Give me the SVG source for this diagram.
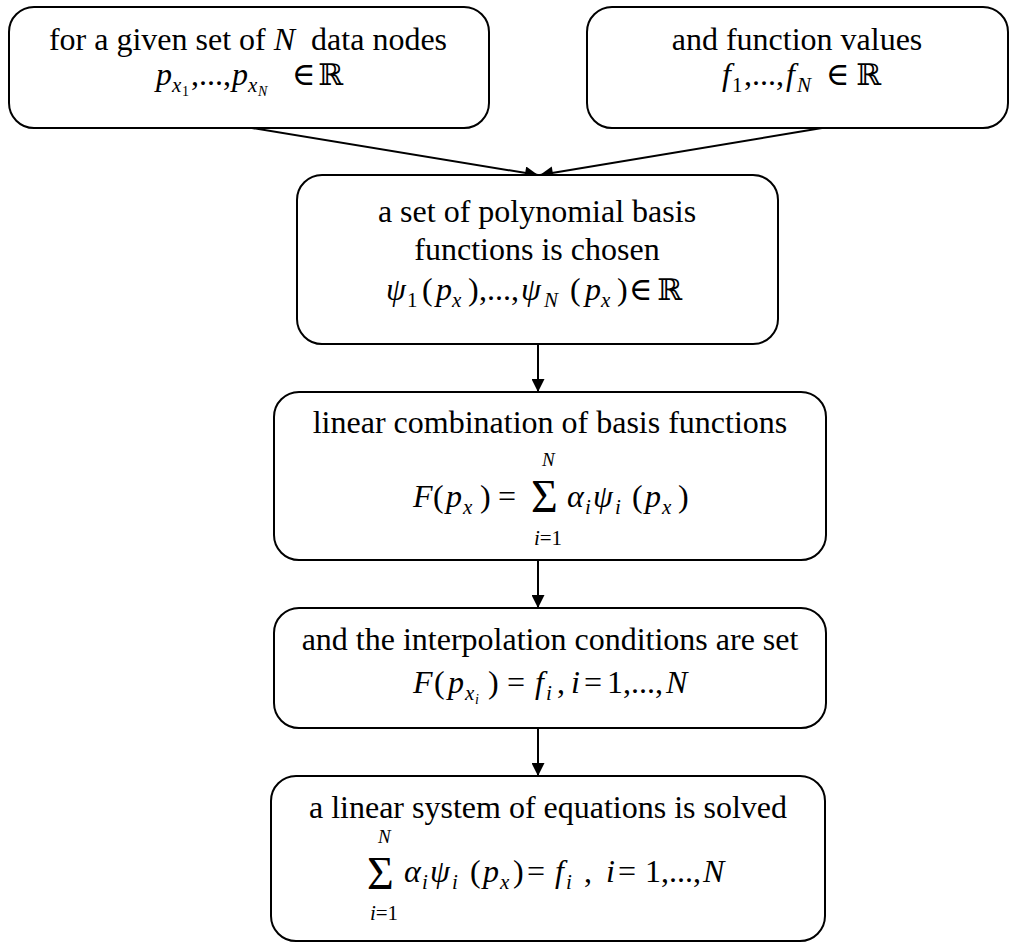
<svg xmlns="http://www.w3.org/2000/svg" width="1009" height="942" viewBox="0 0 1009 942">
<style>
.box{fill:#fff;stroke:#000;stroke-width:2}
.t{font-family:"Liberation Serif","DejaVu Serif",serif;font-size:32px;fill:#000;white-space:pre}
.c{text-anchor:middle}
.i{font-style:italic}
.s{font-size:21px}
.n{font-size:19px}
.ss{font-size:14px}
.sum{font-size:46px}
.r{font-family:"DejaVu Serif","DejaVu Sans",serif;font-size:30px}
.con{stroke:#000;stroke-width:2;fill:none;marker-end:url(#ah)}
</style>
<defs>
<marker id="ah" viewBox="0 0 10 10" refX="10" refY="5" markerWidth="15" markerHeight="13" markerUnits="userSpaceOnUse" orient="auto">
<path d="M0,0 L10,5 L0,10 z" fill="#000"/>
</marker>
</defs>
<g id="connectors">
<line class="con" x1="252" y1="128" x2="538" y2="175"/>
<line class="con" x1="822" y1="128" x2="540" y2="175"/>
<line class="con" x1="538" y1="344" x2="538" y2="392"/>
<line class="con" x1="538" y1="560" x2="538" y2="608"/>
<line class="con" x1="538" y1="728" x2="538" y2="776"/>
</g>
<g id="node1">
<rect class="box" x="9" y="7" width="480" height="121" rx="25"/>
<text class="t c" x="248" y="50">for a given set of <tspan class="i">N</tspan>  data nodes</text>
<text class="t i" x="156" y="85">p</text>
<text class="t i s" x="172" y="92">x</text>
<text class="t ss" x="182" y="96">1</text>
<text class="t" x="191" y="85">,...,</text>
<text class="t i" x="232" y="85">p</text>
<text class="t i s" x="248" y="92">x</text>
<text class="t i ss" x="258" y="96">N</text>
<text class="t" x="292" y="85">∈</text>
<text class="t r" x="318" y="85">ℝ</text>
</g>
<g id="node2">
<rect class="box" x="587" y="7" width="421" height="121" rx="25"/>
<text class="t c" x="797" y="50">and function values</text>
<text class="t i" x="722" y="85">f</text>
<text class="t s" x="732" y="92">1</text>
<text class="t" x="744" y="85">,...,</text>
<text class="t i" x="786" y="85">f</text>
<text class="t i s" x="797" y="92">N</text>
<text class="t" x="826" y="85">∈</text>
<text class="t r" x="856" y="85">ℝ</text>
</g>
<g id="node3">
<rect class="box" x="297" y="175" width="481" height="169" rx="25"/>
<text class="t c" x="537" y="222">a set of polynomial basis</text>
<text class="t c" x="537" y="260">functions is chosen</text>
<text class="t i" x="386" y="300">ψ</text>
<text class="t s" x="407" y="307">1</text>
<text class="t" x="422" y="300">(</text>
<text class="t i" x="436" y="300">p</text>
<text class="t i s" x="452" y="307">x</text>
<text class="t" x="468" y="300">)</text>
<text class="t" x="479" y="300">,...,</text>
<text class="t i" x="521" y="300">ψ</text>
<text class="t i s" x="544" y="307">N</text>
<text class="t" x="570" y="300">(</text>
<text class="t i" x="585" y="300">p</text>
<text class="t i s" x="601" y="307">x</text>
<text class="t" x="617" y="300">)</text>
<text class="t" x="629" y="300">∈</text>
<text class="t r" x="657" y="300">ℝ</text>
</g>
<g id="node4">
<rect class="box" x="274" y="392" width="552" height="168" rx="25"/>
<text class="t c" x="550" y="433">linear combination of basis functions</text>
<text class="t i" x="413" y="507">F</text>
<text class="t" x="433" y="507">(</text>
<text class="t i" x="446" y="507">p</text>
<text class="t i s" x="463" y="514">x</text>
<text class="t" x="480" y="507">)</text>
<text class="t" x="498" y="507">=</text>
<text class="t sum" x="531" y="512">Σ</text>
<text class="t i n" x="542" y="466">N</text>
<text class="t s c" x="548" y="545"><tspan class="i">i</tspan>=1</text>
<text class="t i" x="567" y="507">α</text>
<text class="t i s" x="585" y="514">i</text>
<text class="t i" x="593" y="507">ψ</text>
<text class="t i s" x="615" y="514">i</text>
<text class="t" x="632" y="507">(</text>
<text class="t i" x="645" y="507">p</text>
<text class="t i s" x="662" y="514">x</text>
<text class="t" x="678" y="507">)</text>
</g>
<g id="node5">
<rect class="box" x="274" y="608" width="552" height="120" rx="25"/>
<text class="t c" x="550" y="650">and the interpolation conditions are set</text>
<text class="t i" x="413" y="693">F</text>
<text class="t" x="434" y="693">(</text>
<text class="t i" x="448" y="693">p</text>
<text class="t i s" x="465" y="700">x</text>
<text class="t i ss" x="475" y="704">i</text>
<text class="t" x="488" y="693">)</text>
<text class="t" x="507" y="693">=</text>
<text class="t i" x="535" y="693">f</text>
<text class="t i s" x="546" y="700">i</text>
<text class="t" x="557" y="693">,</text>
<text class="t i" x="571" y="693">i</text>
<text class="t" x="584" y="693">=</text>
<text class="t" x="607" y="693">1,...,</text>
<text class="t i" x="666" y="693">N</text>
</g>
<g id="node6">
<rect class="box" x="271" y="776" width="554" height="165" rx="25"/>
<text class="t c" x="548" y="818">a linear system of equations is solved</text>
<text class="t sum" x="367" y="889">Σ</text>
<text class="t i n" x="378" y="843">N</text>
<text class="t s c" x="384" y="920"><tspan class="i">i</tspan>=1</text>
<text class="t i" x="404" y="882">α</text>
<text class="t i s" x="422" y="889">i</text>
<text class="t i" x="430" y="882">ψ</text>
<text class="t i s" x="452" y="889">i</text>
<text class="t" x="470" y="882">(</text>
<text class="t i" x="483" y="882">p</text>
<text class="t i s" x="500" y="889">x</text>
<text class="t" x="513" y="882">)</text>
<text class="t" x="527" y="882">=</text>
<text class="t i" x="555" y="882">f</text>
<text class="t i s" x="566" y="889">i</text>
<text class="t" x="584" y="882">,</text>
<text class="t i" x="606" y="882">i</text>
<text class="t" x="618" y="882">=</text>
<text class="t" x="645" y="882">1,...,</text>
<text class="t i" x="703" y="882">N</text>
</g>
</svg>
